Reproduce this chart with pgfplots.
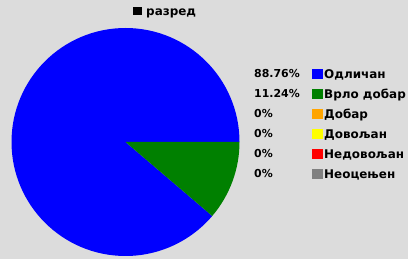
\documentclass[border=0pt]{standalone}
\usepackage{pgfplots}
\pgfplotsset{compat=1.18}
\usepackage{fontspec}
\newfontfamily\dv{DejaVu Sans}
\definecolor{bgc}{HTML}{DCDCDC}
\definecolor{cA}{HTML}{0000FF}
\definecolor{cB}{HTML}{008000}
\definecolor{cC}{HTML}{FFA500}
\definecolor{cD}{HTML}{FFFF00}
\definecolor{cE}{HTML}{FF0000}
\definecolor{cF}{HTML}{808080}
% data (percent)
\def\vA{88.76}
\def\vB{11.24}
\newcommand\legrow[4]{%
  \node[anchor=west, inner sep=0, font={\dv\bfseries\fontsize{11}{11}\selectfont}] at (axis cs:254,#1+0.5) {#2};
  \fill[#3] (axis cs:311.7,#1-4.8) rectangle (axis cs:322.5,#1+4.8);
  \node[anchor=base west, inner sep=0, font={\dv\bfseries\fontsize{12}{12}\selectfont}] at (axis cs:324,#1-4.3) {#4};
}
\begin{document}
\begin{tikzpicture}
\begin{axis}[
  scale only axis, width=408bp, height=259bp,
  xmin=0, xmax=408, ymin=0, ymax=259,
  hide axis, clip=false,
]
\fill[bgc] (axis cs:0,0) rectangle (axis cs:408,259);
% pie
\fill[cA] (axis cs:125.5,117) -- ++(0:114bp) arc[start angle=0, end angle={\vA*3.6}, radius=114bp] -- cycle;
\fill[cB] (axis cs:125.5,117) -- ++({\vA*3.6}:114bp) arc[start angle={\vA*3.6}, end angle={(\vA+\vB)*3.6}, radius=114bp] -- cycle;
% title
\fill[black] (axis cs:133,243.5) rectangle (axis cs:141.5,252);
\node[anchor=base west, inner sep=0, font={\dv\bfseries\fontsize{12}{12}\selectfont}] at (axis cs:146,243.5) {разред};
% legend
\legrow{185}{88.76\%}{cA}{Одличан}
\legrow{165}{11.24\%}{cB}{Врло добар}
\legrow{145}{0\%}{cC}{Добар}
\legrow{125}{0\%}{cD}{Довољан}
\legrow{105}{0\%}{cE}{Недовољан}
\legrow{85}{0\%}{cF}{Неоцењен}
\end{axis}
\end{tikzpicture}
\end{document}
